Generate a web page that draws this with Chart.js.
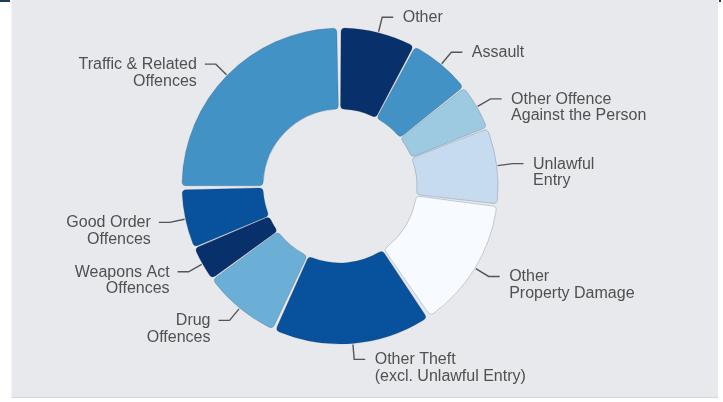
<!DOCTYPE html>
<html>
<head>
<meta charset="utf-8">
<script src="https://cdn.jsdelivr.net/npm/chart.js@4.4.1/dist/chart.umd.min.js"></script>
<style>
  html, body { margin: 0; padding: 0; background: #fff; }
  #wrap { position: relative; width: 723px; height: 402px; overflow: hidden; }
  #panel { position: absolute; left: 11px; top: 0; width: 707px; height: 398px;
           background: #e8e9ed; border-left: 1px solid #f2f3f5; border-bottom: 1px solid #d3d4d8; box-sizing: border-box; }
  #corner { position: absolute; left: 0; top: 0; width: 10px; height: 2px; background: #1f3d5c; }
  #corner2 { position: absolute; left: 719px; top: 0; width: 2px; height: 2px; background: #1f3d5c; }
  #offenceChart { position: absolute; left: 0; top: 0; }
</style>
</head>
<body>
<div id="wrap">
  <div id="panel"></div>
  <div id="corner"></div>
  <div id="corner2"></div>
  <canvas id="offenceChart" width="723" height="402"></canvas>
</div>
<script>
// categories (clockwise from the top)
var categories = [
    ["Other"],
    ["Assault"],
    ["Other Offence", "Against the Person"],
    ["Unlawful", "Entry"],
    ["Other", "Property Damage"],
    ["Other Theft", "(excl. Unlawful Entry)"],
    ["Drug", "Offences"],
    ["Weapons Act", "Offences"],
    ["Good Order", "Offences"],
    ["Traffic & Related", "Offences"]
];
// share of offences (%)
var shares = [7.8, 6.5, 4.7, 7.9, 13.6, 16.4, 8.1, 3.6, 6.1, 25.3];
// slice colours
var colours = ["#08306b", "#4292c6", "#9ecae1", "#c6dbef", "#f7fbff",
               "#08519c", "#6baed6", "#08306b", "#08519c", "#4292c6"];

var gap = 6;

//labels outside the ring with leader lines
var outerLabels = {
    id: 'outerLabels',
    afterDatasetsDraw: function(chart) {
        var ctx = chart.ctx;
        var meta = chart.getDatasetMeta(0);
        ctx.save();
        ctx.font = '16px "Liberation Sans", Arial, sans-serif';
        ctx.fillStyle = '#505050';
        ctx.strokeStyle = '#555';
        ctx.lineWidth = 1.4;
        ctx.textBaseline = 'middle';
        meta.data.forEach(function(arc, i) {
            var p = arc.getProps(['x', 'y', 'startAngle', 'endAngle', 'outerRadius'], true);
            var mid = (p.startAngle + p.endAngle) / 2;
            // arcs are drawn gap/2 further out than outerRadius
            var r0 = p.outerRadius + gap / 2 + 1;
            var r1 = p.outerRadius + gap / 2 + 16;
            var x0 = p.x + Math.cos(mid) * r0, y0 = p.y + Math.sin(mid) * r0;
            var x1 = p.x + Math.cos(mid) * r1, y1 = p.y + Math.sin(mid) * r1;
            var right = x1 >= p.x;
            var x2 = x1 + (right ? 11 : -11);
            ctx.beginPath();
            ctx.moveTo(x0, y0);
            ctx.lineTo(x1, y1);
            ctx.lineTo(x2, y1);
            ctx.stroke();
            ctx.textAlign = right ? 'left' : 'right';
            var tx = x2 + (right ? 9.5 : -8);
            categories[i].forEach(function(line, k) {
                ctx.fillText(line, tx, y1 + 0.5 + k * 16.5);
            });
        });
        ctx.restore();
    }
};

var ctx = document.getElementById("offenceChart").getContext('2d');
var offenceChart = new Chart(ctx, {
    type: 'doughnut',
    data: {
        labels: categories.map(function(c) { return c.join(' '); }),
        datasets: [
            {
                data: shares,
                backgroundColor: colours,
                borderColor: "rgba(40, 60, 90, 0.22)",
                borderWidth: 1,
                borderRadius: 4,
                spacing: gap
            }
        ]
    },
    options: {
        responsive: false,
        animation: false,
        cutout: '47.7%',
        radius: 155,
        layout: {
            padding: { left: 0, right: 43, top: 0, bottom: 30 }
        },
        plugins: {
            legend: { display: false },
            tooltip: { enabled: false }
        }
    },
    plugins: [outerLabels]
});
</script>
</body>
</html>
